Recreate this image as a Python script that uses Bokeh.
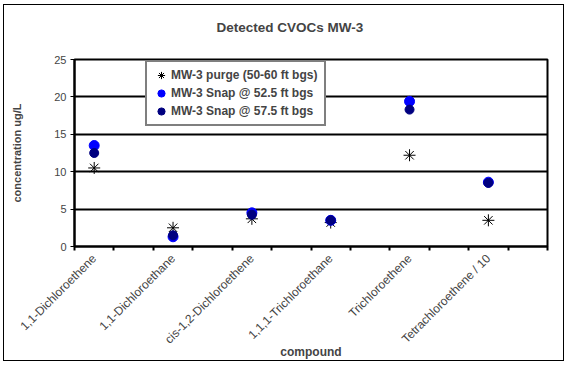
import math
from bokeh.plotting import figure
from bokeh.models import FixedTicker, Legend, LegendItem, ColumnDataSource, Range1d, Title
from bokeh.embed import file_html
from bokeh.resources import INLINE

compounds = ["1,1-Dichloroethene", "1,1-Dichloroethane", "cis-1,2-Dichloroethene",
             "1,1,1-Trichloroethane", "Trichloroethene", "Tetrachloroethene / 10"]
purge = [10.5, 2.5, 3.7, 3.2, 12.2, 3.5]
snap_525 = [13.5, 1.3, 4.5, 3.5, 19.4, 8.6]
snap_575 = [12.5, 1.5, 4.25, 3.5, 18.3, 8.5]
y_ticks = [0, 5, 10, 15, 20, 25]
series_names = ["MW-3 purge (50-60 ft bgs)", "MW-3 Snap @ 52.5 ft bgs", "MW-3 Snap @ 57.5 ft bgs"]
chart_title = "Detected CVOCs  MW-3"

n_slots = 2 * len(compounds)
xpos = [2 * i + 0.5 for i in range(len(compounds))]
src = ColumnDataSource(dict(x=xpos, purge=purge, s1=snap_525, s2=snap_575, name=compounds))

FONT = "Liberation Sans"

p = figure(width=561, height=357, output_backend="svg", toolbar_location=None,
           x_range=Range1d(0, n_slots), y_range=Range1d(0, 25),
           min_border_left=70, min_border_right=18, min_border_top=54, min_border_bottom=116,
           title=None)
p.styles = {"border": "1px solid black", "margin-left": "3px", "margin-top": "4px"}
p.background_fill_color = "white"
p.border_fill_color = "white"
p.outline_line_color = "black"
p.outline_line_width = 2

# spacer between frame and title, then the title itself
spacer = Title(text=" ", text_font=FONT, text_font_size="12px", standoff=7)
p.add_layout(spacer, "above")
title = Title(text=chart_title, text_font=FONT, text_font_size="13.5px", text_font_style="bold",
              align="left", offset=142, vertical_align="top", standoff=0)
p.add_layout(title, "above")

p.xgrid.visible = False
p.ygrid.grid_line_color = "black"
p.ygrid.grid_line_width = 2
p.ygrid.ticker = FixedTicker(ticks=y_ticks)

# y axis
ya = p.yaxis[0]
ya.ticker = FixedTicker(ticks=y_ticks)
ya.axis_line_color = "black"
ya.axis_line_width = 2
ya.major_tick_out = 4
ya.major_tick_in = 0
ya.minor_tick_line_color = None
ya.major_label_text_font = FONT
ya.major_label_text_font_size = "11px"
ya.major_label_standoff = 4
ya.axis_label = "concentration ug/L"
ya.axis_label_text_font = FONT
ya.axis_label_text_font_size = "11px"
ya.axis_label_text_font_style = "bold"
ya.axis_label_standoff = 28

# x axis
xa = p.xaxis[0]
xa.ticker = FixedTicker(ticks=xpos, minor_ticks=list(range(n_slots + 1)))
xa.major_label_overrides = {x: c for x, c in zip(xpos, compounds)}
xa.major_tick_line_color = None
xa.major_tick_out = 0
xa.major_tick_in = 0
xa.minor_tick_line_color = "black"
xa.minor_tick_line_width = 2
xa.minor_tick_out = 4
xa.minor_tick_in = 0
xa.axis_line_color = "black"
xa.axis_line_width = 2
xa.major_label_orientation = math.pi / 4
xa.major_label_text_font = FONT
xa.major_label_text_font_size = "12px"
xa.major_label_standoff = 6
xa.axis_label = "compound"
xa.axis_label_text_font = FONT
xa.axis_label_text_font_size = "12px"
xa.axis_label_text_font_style = "bold"
xa.axis_label_standoff = -9

r0 = p.scatter("x", "purge", source=src, marker="asterisk", size=12, line_color="black", line_width=1)
r1 = p.scatter("x", "s1", source=src, marker="circle", size=10, fill_color="#0000FF", line_color="#0000FF")
r2 = p.scatter("x", "s2", source=src, marker="circle", size=9, fill_color="#000080", line_color="#000080")

legend = Legend(items=[LegendItem(label=series_names[0], renderers=[r0]),
                       LegendItem(label=series_names[1], renderers=[r1]),
                       LegendItem(label=series_names[2], renderers=[r2])],
                location=(71, 120))
legend.border_line_color = "black"
legend.border_line_width = 2
legend.background_fill_color = "white"
legend.background_fill_alpha = 1
legend.label_text_font = FONT
legend.label_text_font_size = "12px"
legend.label_text_font_style = "bold"
legend.padding = 4
legend.spacing = 0
legend.margin = 0
legend.label_height = 18
legend.glyph_height = 18
legend.glyph_width = 20
legend.label_standoff = 0
legend.label_width = 149
p.add_layout(legend, "center")

open("out.html", "w").write(file_html(p, INLINE))
